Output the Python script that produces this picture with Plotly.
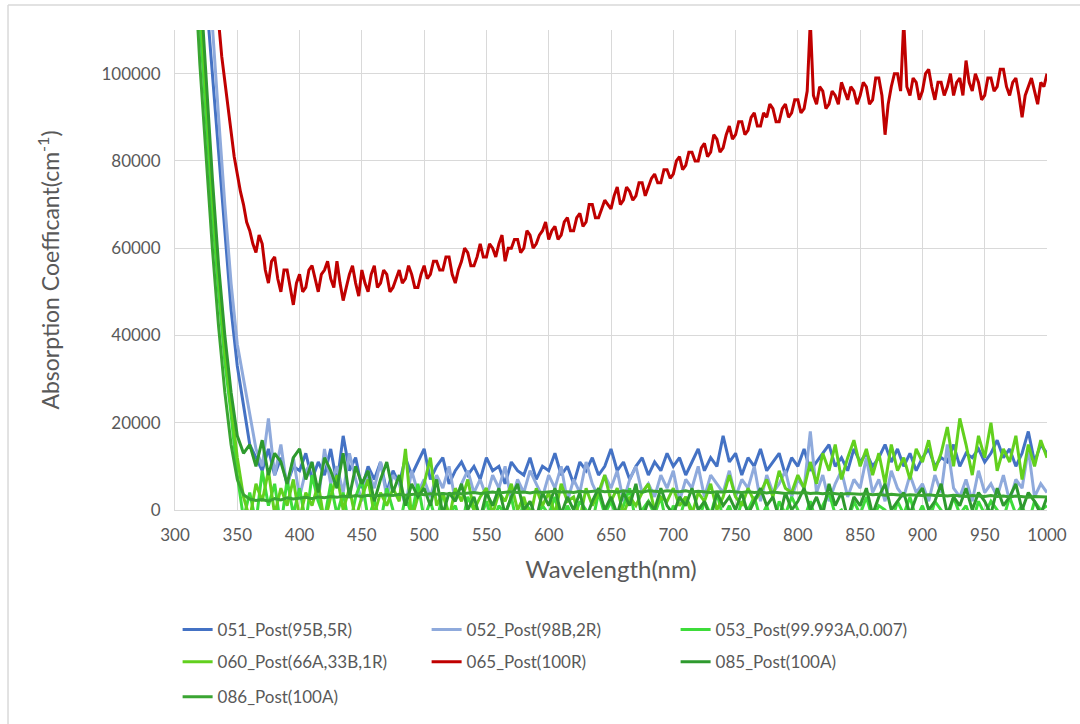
import plotly.graph_objects as go

# Wavelength grids (nm)
wavelength = list(range(300, 1001, 5))
wavelength_fine = [300 + 2.5 * i for i in range(281)]  # 065 sample read at finer spacing

# Absorption coefficient (cm^-1)
s051 = [
    260000, 230000, 200000, 172000, 145000, 118000, 100000, 80000, 62000, 46000,
    33000, 24000, 15000, 12000, 9000, 14000, 8000, 12000, 6000, 10000,
    9000, 13000, 7000, 11000, 8000, 14000, 6000, 17000, 9000, 12000,
    5000, 10000, 7000, 11000, 4000, 9000, 6000, 12000, 8000, 11000,
    14000, 7000, 10000, 12000, 6000, 9000, 11000, 8000, 10000, 7000,
    12000, 9000, 10000, 6000, 11000, 9000, 8000, 12000, 7000, 10000,
    9000, 13000, 8000, 10000, 6000, 11000, 9000, 12000, 8000, 10000,
    14000, 9000, 11000, 7000, 10000, 12000, 8000, 11000, 9000, 13000,
    10000, 12000, 8000, 11000, 14000, 9000, 12000, 10000, 17000, 11000,
    13000, 8000, 12000, 10000, 14000, 9000, 11000, 13000, 8000, 12000,
    10000, 14000, 9000, 11000, 13000, 15000, 10000, 12000, 9000, 14000,
    11000, 13000, 10000, 12000, 15000, 11000, 14000, 10000, 13000, 9000,
    12000, 14000, 10000, 12000, 11000, 15000, 10000, 13000, 12000, 14000,
    11000, 13000, 16000, 12000, 14000, 10000, 13000, 18000, 11000, 15000,
    13000,
]
s052 = [
    300000, 260000, 225000, 190000, 160000, 132000, 110000, 90000, 70000, 52000,
    38000, 30000, 22000, 14000, 10000, 21000, 8000, 15000, 5000, 12000,
    3000, 9000, 11000, 2000, 14000, 6000, 10000, 4000, 13000, 7000,
    2000, 9000, 5000, 11000, 3000, 8000, 6000, 1000, 9000, 4000,
    7000, 3000, 8000, 5000, 10000, 2000, 6000, 9000, 4000, 7000,
    3000, 8000, 5000, 10000, 2000, 7000, 4000, 9000, 6000, 3000,
    8000, 5000, 10000, 2000, 7000, 4000, 11000, 6000, 3000, 8000,
    5000, 9000, 2000, 7000, 10000, 4000, 6000, 3000, 8000, 5000,
    9000, 2000, 7000, 5000, 10000, 3000, 8000, 6000, 4000, 9000,
    3000, 7000, 5000, 10000, 2000, 8000, 4000, 6000, 9000, 3000,
    7000, 5000, 18000, 4000, 8000, 2000, 6000, 9000, 3000, 7000,
    5000, 12000, 4000, 7000, 2000, 9000, 5000, 3000, 8000, 4000,
    6000, 2000, 8000, 4000, 15000, 5000, 3000, 7000, 2000, 9000,
    4000, 6000, 3000, 8000, 2000, 7000, 5000, 14000, 3000, 6000,
    4000,
]
s053 = [
    220000, 190000, 160000, 135000, 112000, 90000, 68000, 50000, 34000, 22000,
    8000, -2000, 4000, -3000, 9000, 1000, 6000, -4000, 7000, -1000,
    5000, -3000, 8000, 2000, -2000, 6000, -1000, 4000, -4000, 3000,
    7000, -2000, 2000, -3000, 5000, 0, -4000, 3000, -1000, 6000,
    -2000, 2000, -3000, 4000, -1000, 1000, -4000, 3000, 0, -2000,
    2000, -3000, 1000, -1000, 3000, -4000, 2000, 0, -2000, 1000,
    -1000, 3000, -3000, 1000, -2000, 2000, 0, -3000, 4000, -1000,
    2000, -2000, 1000, 5000, -3000, 0, 2000, -1000, 3000, -4000,
    1000, -2000, 3000, 0, -3000, 2000, -1000, 4000, -2000, 1000,
    -3000, 2000, 0, 3000, -2000, 1000, -4000, 2000, -1000, 3000,
    0, -2000, 2000, -3000, 1000, 4000, -1000, 0, -3000, 2000,
    -1000, 3000, -2000, 1000, 0, -3000, 2000, -1000, 3000, -2000,
    1000, -3000, 2000, 0, -2000, 3000, -1000, 1000, -3000, 2000,
    -1000, 2000, 0, -2000, 3000, -1000, 1000, -3000, 2000, 0,
    1000,
]
s060 = [
    230000, 200000, 170000, 142000, 118000, 95000, 73000, 54000, 37000, 24000,
    12000, 3000, -2000, 6000, 2000, 9000, -1000, 5000, 1000, 7000,
    -2000, 4000, 1000, 6000, -3000, 3000, 8000, 0, 5000, -2000,
    3000, 7000, -1000, 4000, 1000, 5000, 2000, 14000, -2000, 3000,
    6000, 12000, 1000, 4000, -2000, 5000, 2000, 7000, 0, 3000,
    5000, -1000, 4000, 2000, 6000, 0, 3000, -2000, 5000, 1000,
    4000, -1000, 6000, 2000, 3000, -2000, 5000, 1000, 4000, 8000,
    2000, 5000, -1000, 3000, 1000, 4000, 6000, 0, 3000, 2000,
    5000, 1000, 3000, -1000, 4000, 2000, 6000, 0, 3000, 8000,
    3000, 1000, 5000, 2000, 4000, 7000, 3000, 9000, 5000, 4000,
    8000, 5000, 11000, 6000, 13000, 9000, 15000, 7000, 12000, 16000,
    10000, 14000, 8000, 13000, 6000, 15000, 9000, 12000, 7000, 14000,
    11000, 16000, 9000, 13000, 19000, 10000, 21000, 15000, 8000, 17000,
    12000, 20000, 9000, 14000, 11000, 17000, 7000, 15000, 10000, 16000,
    12000,
]
# 065 on the 2.5 nm grid (20 values per 50 nm row)
s065 = [
    200000, 195000, 190000, 182000, 175000, 168000, 160000, 154000, 148000, 142000,
    136000, 130000, 125000, 118000, 112000, 104000, 98000, 92000, 87000, 81000,
    77000, 73000, 70000, 66000, 64000, 61000, 59000, 63000, 61000, 55000,
    52000, 57000, 58000, 53000, 50000, 55000, 55000, 51000, 47000, 52000,
    54000, 50000, 51000, 55000, 56000, 53000, 50000, 54000, 55000, 57000,
    53000, 51000, 57000, 52000, 48000, 51000, 54000, 56000, 52000, 49000,
    55000, 52000, 50000, 54000, 56000, 51000, 52000, 55000, 54000, 50000,
    51000, 53000, 55000, 52000, 53000, 56000, 54000, 51000, 51000, 54000,
    56000, 53000, 54000, 57000, 57000, 55000, 55000, 58000, 58000, 54000,
    52000, 55000, 57000, 60000, 59000, 56000, 56000, 58000, 61000, 58000,
    58000, 61000, 60000, 58000, 61000, 63000, 57000, 60000, 60000, 62000,
    62000, 59000, 60000, 64000, 63000, 60000, 61000, 63000, 64000, 66000,
    62000, 64000, 65000, 62000, 63000, 66000, 67000, 64000, 64000, 67000,
    68000, 65000, 66000, 70000, 70000, 67000, 67000, 69000, 71000, 70000,
    69000, 72000, 74000, 70000, 71000, 74000, 73000, 71000, 72000, 75000,
    75000, 72000, 74000, 76000, 77000, 75000, 75000, 78000, 78000, 76000,
    77000, 80000, 81000, 78000, 79000, 82000, 82000, 80000, 80000, 83000,
    84000, 81000, 82000, 86000, 85000, 82000, 83000, 86000, 88000, 85000,
    86000, 89000, 89000, 86000, 87000, 90000, 91000, 88000, 88000, 91000,
    90000, 93000, 92000, 89000, 89000, 92000, 93000, 90000, 91000, 94000,
    94000, 91000, 92000, 96000, 112000, 95000, 93000, 97000, 96000, 92000,
    93000, 96000, 95000, 93000, 98000, 96000, 94000, 97000, 96000, 93000,
    95000, 98000, 97000, 93000, 94000, 99000, 99000, 95000, 86000, 93000,
    97000, 100000, 100000, 96000, 112000, 97000, 95000, 99000, 98000, 94000,
    96000, 100000, 101000, 97000, 94000, 98000, 98000, 95000, 97000, 100000,
    95000, 98000, 99000, 95000, 103000, 98000, 96000, 100000, 98000, 94000,
    95000, 99000, 99000, 96000, 97000, 101000, 101000, 97000, 95000, 98000,
    99000, 95000, 90000, 95000, 97000, 99000, 96000, 93000, 98000, 97000,
    100000,
]
s085 = [
    240000, 205000, 175000, 148000, 122000, 98000, 76000, 56000, 40000, 27000,
    17000, 13000, 15000, 10000, 16000, 8000, 13000, 11000, 6000, 12000,
    14000, 7000, 11000, 4000, 12000, 9000, 5000, 13000, 3000, 10000,
    6000, 9000, 2000, 7000, 11000, 4000, 8000, 1000, 6000, 3000,
    5000, 1000, 7000, -1000, 4000, 2000, 6000, 0, 3000, -2000,
    4000, 1000, 5000, -1000, 3000, 6000, 0, 2000, -2000, 4000,
    1000, 5000, -1000, 3000, 0, 4000, -2000, 2000, 5000, 0,
    3000, -1000, 4000, 1000, 6000, -2000, 2000, 0, 5000, 1000,
    -1000, 3000, 1000, 5000, 0, 2000, -2000, 4000, 1000, 3000,
    0, 4000, -1000, 2000, 5000, 1000, 3000, -2000, 4000, 0,
    2000, 5000, 0, 3000, -1000, 6000, 1000, 4000, -2000, 3000,
    1000, 5000, -1000, 3000, 6000, 0, 2000, 4000, -1000, 3000,
    5000, 0, 2000, 6000, -1000, 3000, 1000, 5000, 0, 4000,
    2000, -1000, 5000, 1000, 3000, 6000, 0, 4000, 2000, -1000,
    3000,
]
s086 = [
    215000, 185000, 156000, 128000, 102000, 80000, 60000, 42000, 27000, 15000,
    7000, 3500, 2500, 2200, 2400, 2000, 2600, 2300, 2800, 2500,
    2700, 2900, 2600, 3000, 2800, 3100, 2900, 3200, 3000, 3300,
    3100, 3400, 3200, 3300, 3500, 3300, 3600, 3400, 3500, 3700,
    3500, 3700, 3600, 3800, 3600, 3900, 3700, 3800, 4000, 3800,
    3900, 4100, 3900, 4000, 4200, 4000, 4100, 3900, 4200, 4000,
    4100, 4300, 4100, 4200, 4000, 4300, 4100, 4200, 4400, 4200,
    4300, 4100, 4400, 4200, 4300, 4100, 4400, 4300, 4200, 4400,
    4300, 4200, 4400, 4100, 4300, 4200, 4000, 4200, 4100, 4300,
    4100, 4000, 4200, 4000, 4100, 3900, 4100, 4000, 3800, 4000,
    3900, 4000, 3800, 3900, 3700, 3900, 3800, 3600, 3800, 3700,
    3600, 3700, 3500, 3600, 3400, 3600, 3500, 3300, 3500, 3400,
    3300, 3500, 3300, 3400, 3200, 3400, 3300, 3100, 3300, 3200,
    3100, 3300, 3100, 3200, 3000, 3200, 3100, 2900, 3100, 3000,
    3000,
]

series_names = [
    "051_Post(95B,5R)", "052_Post(98B,2R)", "053_Post(99.993A,0.007)",
    "060_Post(66A,33B,1R)", "065_Post(100R)", "085_Post(100A)", "086_Post(100A)",
]
series_x = [wavelength, wavelength, wavelength, wavelength, wavelength_fine, wavelength, wavelength]
series_values = [s051, s052, s053, s060, s065, s085, s086]
series_colors = ["#4472C4", "#8FAADC", "#3EDC3A", "#62D01E", "#C00000", "#2E9A2E", "#3AA532"]
series_legend = ["legend", "legend", "legend", "legend2", "legend2", "legend2", "legend3"]

x_ticks = list(range(300, 1001, 50))
y_ticks = list(range(0, 100001, 20000))

FONT = "Lato, 'Open Sans', sans-serif"
GREY = "#595959"
GRID = "#D9D9D9"

fig = go.Figure()
for name, xs, vals, col, lg in zip(series_names, series_x, series_values, series_colors, series_legend):
    fig.add_trace(go.Scatter(
        x=xs, y=vals, mode="lines", name=name,
        line=dict(color=col, width=3), legend=lg,
    ))

legend_common = dict(
    orientation="h", xanchor="left", yanchor="middle",
    font=dict(family=FONT, size=17, color=GREY),
    entrywidth=204, entrywidthmode="pixels",
    bgcolor="rgba(0,0,0,0)", itemwidth=30,
)

fig.update_layout(
    width=1080, height=724,
    paper_bgcolor="white", plot_bgcolor="white",
    margin=dict(l=175, r=33, t=30, b=214, autoexpand=False),
    font=dict(family=FONT, color=GREY),
    showlegend=True,
    legend=dict(x=0.003, y=-0.25, **legend_common),
    legend2=dict(x=0.003, y=-0.317, **legend_common),
    legend3=dict(x=0.003, y=-0.39, **legend_common),
    xaxis=dict(
        range=[300, 1000], tickvals=x_ticks, ticktext=[str(v) for v in x_ticks],
        showgrid=True, gridcolor=GRID, gridwidth=1,
        showline=True, linecolor=GRID, linewidth=1, zeroline=False,
        ticks="outside", ticklen=10, tickcolor="rgba(0,0,0,0)",
        tickfont=dict(family=FONT, size=17, color=GREY),
        title=dict(text="Wavelength(nm)", font=dict(family=FONT, size=24, color=GREY), standoff=16),
        automargin=False,
    ),
    yaxis=dict(
        range=[0, 110000], tickvals=y_ticks, ticktext=[str(v) for v in y_ticks],
        showgrid=True, gridcolor=GRID, gridwidth=1,
        showline=True, linecolor=GRID, linewidth=1, zeroline=False,
        ticks="outside", ticklen=10, tickcolor="rgba(0,0,0,0)",
        tickfont=dict(family=FONT, size=17, color=GREY),
        title=dict(text="Absorption Coefficant(cm<sup>-1</sup>)",
                   font=dict(family=FONT, size=23, color=GREY), standoff=35),
        automargin=False,
    ),
    shapes=[
        dict(type="line", xref="paper", yref="paper", x0=-0.1915, x1=1.2, y0=1.052, y1=1.052,
             line=dict(color=GRID, width=1.5)),
        dict(type="line", xref="paper", yref="paper", x0=-0.1915, x1=-0.1915, y0=-0.6, y1=1.052,
             line=dict(color=GRID, width=1.5)),
    ],
)

fig.write_html("out.html", config={"displayModeBar": False})
with open("out.html", "r", encoding="utf-8") as f:
    html = f.read()
html = html.replace("<head>", "<head><style>body{margin:0;padding:0;overflow:hidden;}</style>", 1)
with open("out.html", "w", encoding="utf-8") as f:
    f.write(html)
